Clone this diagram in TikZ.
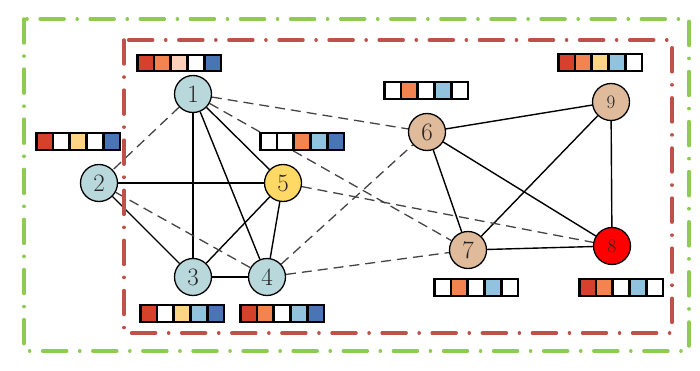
\documentclass[tikz,border=0pt]{standalone}
\usetikzlibrary{backgrounds}
\definecolor{nblue}{HTML}{B9D8DC}
\definecolor{nyellow}{HTML}{FED966}
\definecolor{ntan}{HTML}{DFBA9B}
\definecolor{nred}{HTML}{FF0000}
\definecolor{cred}{HTML}{D6412B}
\definecolor{corange}{HTML}{F3834F}
\definecolor{cpeach}{HTML}{FDD0BB}
\definecolor{cyellow}{HTML}{FDD685}
\definecolor{clblue}{HTML}{92C3DE}
\definecolor{cblue}{HTML}{4A75B5}
\definecolor{fgreen}{HTML}{8DCB52}
\definecolor{fred}{HTML}{BE5149}
\definecolor{dgrey}{HTML}{444444}
\tikzset{
  gnode/.style={circle, draw=black, line width=1.3pt, minimum size=37pt, inner sep=0pt,
     font=\fontsize{25}{25}\selectfont, text=black!85},
  gsmall/.style={gnode, font=\fontsize{19}{19}\selectfont},
  cell/.style={draw=black, line width=2.3pt, minimum width=16.4pt, minimum height=16.4pt,
     inner sep=0pt, outer sep=0pt},
  sedge/.style={line width=1.4pt, black},
  tedge/.style={line width=2.4pt, black},
  dedge/.style={line width=1.3pt, dgrey, dash pattern=on 10pt off 6pt},
  frame/.style={line width=3.5pt, line cap=round, dash pattern=on 24pt off 13pt on 0.1pt off 13pt}
}
\newcommand\cellbar[4]{%
  \foreach \c [count=\i from 0] in {#4} {%
    \node[cell, fill=\c] (#1-\i) at ({#2+\i*16.8},#3) {};}}
\begin{document}
\begin{tikzpicture}[x=1pt,y=-1pt]
\useasboundingbox (0,0) rectangle (700,371);
\draw[frame, fgreen] (24,19) rectangle (689,351);
\draw[frame, fred] (124,40) rectangle (672,333);

\node[gnode, fill=nblue] (n1) at (193,94) {1};
\node[gnode, fill=nblue] (n2) at (99,183) {2};
\node[gnode, fill=nblue] (n3) at (193,277) {3};
\node[gnode, fill=nblue] (n4) at (267,277) {4};
\node[gnode, fill=nyellow] (n5) at (283,183) {5};
\node[gnode, fill=ntan] (n6) at (427,132) {6};
\node[gnode, fill=ntan] (n7) at (468,250) {7};
\node[gsmall, fill=nred] (n8) at (612,246) {8};
\node[gsmall, fill=ntan] (n9) at (611,102) {9};

\begin{scope}[on background layer]
\draw[sedge] (n1) -- (n3);
\draw[sedge] (n1) -- (n4);
\draw[sedge] (n1) -- (n5);
\draw[tedge] (n2) -- (n5);
\draw[sedge] (n2) -- (n3);
\draw[sedge] (n3) -- (n5);
\draw[sedge] (n3) -- (n4);
\draw[sedge] (n4) -- (n5);
\draw[sedge] (n6) -- (n9);
\draw[sedge] (n6) -- (n7);
\draw[sedge] (n6) -- (n8);
\draw[sedge] (n7) -- (n9);
\draw[sedge] (n7) -- (n8);
\draw[sedge] (n8) -- (n9);
\draw[dedge] (n1) -- (n2);
\draw[dedge] (n1) -- (n6);
\draw[dedge] (n1) -- (n7);
\draw[dedge] (n2) -- (n4);
\draw[dedge] (n4) -- (n6);
\draw[dedge] (n4) -- (n7);
\draw[dedge] (n5) -- (n8);
\end{scope}

\cellbar{b1}{145.6}{63}{cred,corange,cpeach,white,cblue}
\cellbar{b2}{44.6}{141.5}{cred,white,cyellow,white,cblue}
\cellbar{b5}{268.6}{141.5}{white,white,corange,clblue,cblue}
\cellbar{b6}{392.6}{90.5}{white,corange,white,clblue,white}
\cellbar{b9}{566.6}{62.5}{cred,corange,cyellow,clblue,white}
\cellbar{b7}{442.6}{287.5}{white,corange,white,clblue,white}
\cellbar{b8}{587.6}{287.5}{cred,corange,white,clblue,white}
\cellbar{b3}{148.6}{313.5}{cred,white,cyellow,clblue,cblue}
\cellbar{b4}{248.6}{313.5}{cred,corange,white,clblue,cblue}
\end{tikzpicture}
\end{document}
